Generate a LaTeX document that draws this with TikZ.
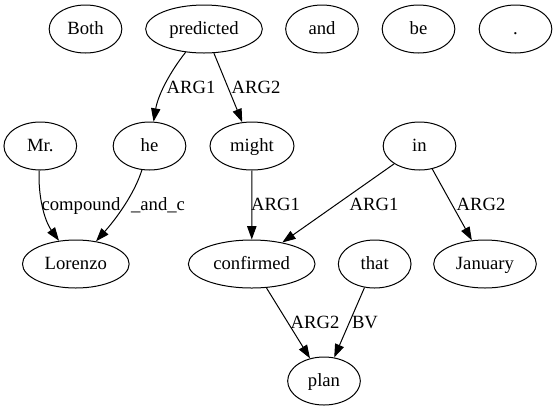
\documentclass[tikz,border=0pt]{standalone}
\usepackage{fontspec}
\setmainfont{Liberation Serif}
\usetikzlibrary{shapes.geometric,arrows.meta}
\begin{document}
\begin{tikzpicture}[x=0.75pt,y=-0.75pt,
  nd/.style={draw,ellipse,inner sep=0pt,minimum height=36pt,minimum width=54.5pt,font=\fontsize{14pt}{16pt}\selectfont,text height=10pt,text depth=2pt,line width=0.75pt},
  ed/.style={draw,line width=0.75pt,-{Triangle[length=10pt,width=7pt]}},
  lb/.style={font=\fontsize{14pt}{16pt}\selectfont,inner sep=0pt,text height=10pt,text depth=2pt}]
\useasboundingbox (0,0) rectangle (556,411);
\node[nd] (both) at (85.5,29) {Both};
\node[nd,minimum width=87.5pt] (pr) at (204,29) {predicted};
\node[nd] (and) at (322,29) {and};
\node[nd] (be) at (418.5,29) {be};
\node[nd] (dot) at (515.5,29) {.};
\node[nd] (mr) at (40.3,146) {Mr.};
\node[nd] (he) at (149.5,146) {he};
\node[nd,minimum width=63pt] (might) at (252,146) {might};
\node[nd] (in) at (419.5,146) {in};
\node[nd,minimum width=80pt] (lor) at (75.8,264) {Lorenzo};
\node[nd,minimum width=95pt] (conf) at (251.7,264) {confirmed};
\node[nd] (that) at (374.7,264) {that};
\node[nd,minimum width=77pt] (jan) at (485,264) {January};
\node[nd] (plan) at (324,381) {plan};

\draw[ed] (pr) .. controls (170,72) and (158,95) .. (he);
\node[lb] at (191,88) {ARG1};
\draw[ed] (pr) -- (might);
\node[lb] at (256,88) {ARG2};
\draw[ed] (mr) .. controls (38,195) and (44,220) .. (lor);
\node[lb] at (81,205) {compound};
\draw[ed] (he) .. controls (134,195) and (115,220) .. (lor);
\node[lb] at (158,205) {\_and\_c};
\draw[ed] (might) -- (conf);
\node[lb] at (275.5,205) {ARG1};
\draw[ed] (in) -- (conf);
\node[lb] at (374,205) {ARG1};
\draw[ed] (in) -- (jan);
\node[lb] at (481,205) {ARG2};
\draw[ed] (conf) -- (plan);
\node[lb] at (315,323) {ARG2};
\draw[ed] (that) -- (plan);
\node[lb] at (365,323) {BV};
\end{tikzpicture}
\end{document}
